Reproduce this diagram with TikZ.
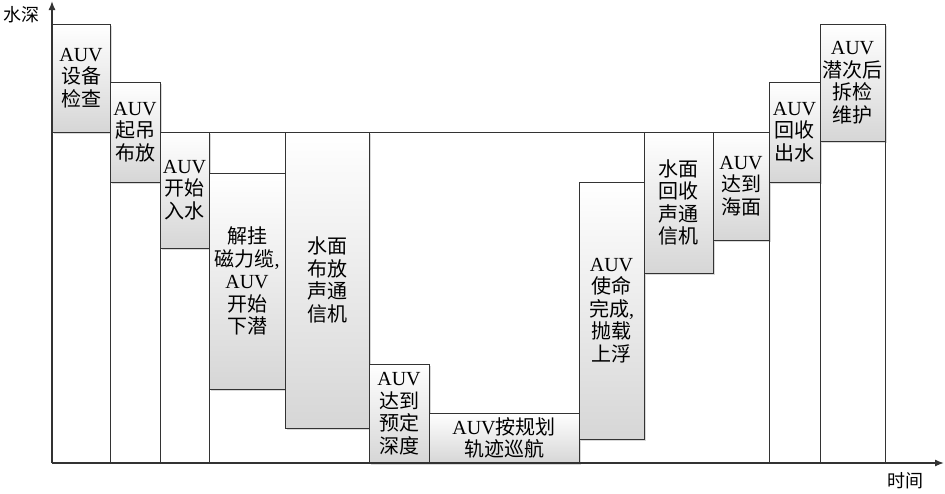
\documentclass[tikz,border=0pt]{standalone}
\usepackage{fontspec}
\setmainfont{Liberation Serif}
\newfontfamily\cjk{Noto Sans CJK SC}
\usetikzlibrary{arrows.meta, shadows}
\newcommand{\auv}{{\rmfamily AUV}}
\newcommand{\cm}{{\rmfamily,}}

\begin{document}
\begin{tikzpicture}[
	x=1pt, y=-1pt,
	stage/.style={draw=black!80, line width=0.9pt, inner sep=0pt, outer sep=0pt,
		top color=white, bottom color=black!16, align=center,
		font=\fontsize{20}{22.5}\selectfont\cjk,
		drop shadow={shadow xshift=1.5pt, shadow yshift=-1.5pt, opacity=0.3}},
	guide/.style={black!80, line width=0.9pt},
	axis/.style={-{Latex[length=9pt,width=7pt]}, black!80, line width=1.4pt},
	label/.style={font=\fontsize{18}{20}\selectfont\cjk}
	]
	\useasboundingbox (0,0) rectangle (945,493);
	
	% ======================
	% Achsen
	% ======================
	\coordinate (O) at (52,463);
	\coordinate (ytip) at (52,1);
	\coordinate (xtip) at (944,463);
	
	\node[label] (depthlbl) at (22,15) {水深};
	\node[label] (timelbl) at (905,481) {时间};
	
	% ======================
	% Abtauchen
	% ======================
	\node[stage, minimum width=58pt, minimum height=108pt] (check) at (81,78) {\auv\\设备\\检查};
	\node[stage, minimum width=50pt, minimum height=100pt] (hoist) at (135,132) {\auv\\起吊\\布放};
	\node[stage, minimum width=49pt, minimum height=116pt] (entry) at (184.5,190) {\auv\\开始\\入水};
	\node[stage, minimum width=76pt, minimum height=216pt] (dive) at (247,281) {解挂\\磁力缆\cm\\\auv\\开始\\下潜};
	\node[stage, minimum width=84pt, minimum height=296pt] (deploy) at (327,280) {水面\\布放\\声通\\信机};
	\node[stage, minimum width=60pt, minimum height=99pt] (depth) at (399,413.5) {\auv\\达到\\预定\\深度};
	
	% ======================
	% Fahrt und Auftauchen
	% ======================
	\node[stage, minimum width=150pt, minimum height=50pt] (cruise) at (504,438) {\auv 按规划\\轨迹巡航};
	\node[stage, minimum width=65pt, minimum height=257pt] (rise) at (611.5,310.5) {\auv\\使命\\完成\cm\\抛载\\上浮};
	\node[stage, minimum width=69pt, minimum height=141pt] (recover) at (678.5,202.5) {水面\\回收\\声通\\信机};
	\node[stage, minimum width=56pt, minimum height=108pt] (surface) at (741,186) {\auv\\达到\\海面};
	\node[stage, minimum width=51pt, minimum height=100pt] (lift) at (794.5,132) {\auv\\回收\\出水};
	\node[stage, minimum width=65pt, minimum height=117pt] (repair) at (852.5,82.5) {\auv\\潜次后\\拆检\\维护};
	
	% Hilfslinien
	\draw[guide] (entry.north west) -- (surface.north east);
	\draw[guide] (check.south east) -- (check.south east |- O);
	\draw[guide] (hoist.south east) -- (hoist.south east |- O);
	\draw[guide] (entry.south east) -- (entry.south east |- O);
	\draw[guide] (surface.south east) -- (surface.south east |- O);
	\draw[guide] (lift.south east) -- (lift.south east |- O);
	\draw[guide] (repair.south east) -- (repair.south east |- O);
	
	\draw[axis] (O) -- (ytip);
	\draw[axis] (O) -- (xtip);
	
\end{tikzpicture}
\end{document}
